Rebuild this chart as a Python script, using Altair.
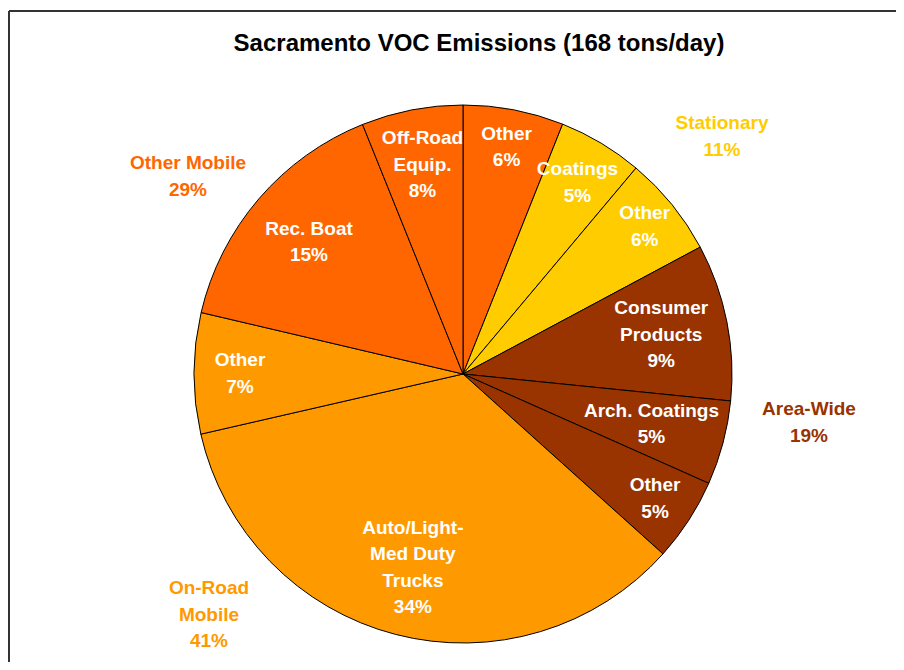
import altair as alt
import pandas as pd

# ---- data ----
slice_names = ["Other", "Coatings", "Other", "Consumer\nProducts", "Arch. Coatings",
               "Other", "Auto/Light-\nMed Duty\nTrucks", "Other", "Rec. Boat", "Off-Road\nEquip."]
slice_groups = ["Other Mobile", "Stationary", "Stationary", "Area-Wide", "Area-Wide",
                "Area-Wide", "On-Road Mobile", "On-Road Mobile", "Other Mobile", "Other Mobile"]
slice_shares = [6.04, 5.08, 6.06, 9.42, 5.06, 5.00, 34.75, 7.26, 15.24, 6.09]  # measured angle share (%)
slice_pct_labels = ["6%", "5%", "6%", "9%", "5%", "5%", "34%", "7%", "15%", "8%"]

group_names = ["Other Mobile", "Stationary", "Area-Wide", "On-Road\nMobile"]
group_pct_labels = ["29%", "11%", "19%", "41%"]

# ---- styling ----
group_colors = {"Other Mobile": "#FF6600", "Stationary": "#FFCC00",
                "Area-Wide": "#993300", "On-Road Mobile": "#FF9900"}
label_radius = [231, 223, 234, 202, 195, 229, 200, 223, 203, 213]
group_label_pos = [(180, 155, "#FF6600"), (714, 115, "#FFCC00"),
                   (801, 401, "#993300"), (201, 580, "#FF9900")]
FONT = "Liberation Sans"
LH = 26.5
CX, CY, R = 455, 366, 269

labels = [f"{n}\n{p}" for n, p in zip(slice_names, slice_pct_labels)]
df = pd.DataFrame({
    "idx": list(range(len(slice_names))),
    "share": slice_shares,
    "group": slice_groups,
    "label": labels,
    "nlines": [t.count("\n") + 1 for t in labels],
    "color": [group_colors[g] for g in slice_groups],
    "lr": label_radius,
})

theta_scale = alt.Scale(domain=[0, 100])

pie = alt.Chart(df).mark_arc(radius=R, stroke="black", strokeWidth=1).encode(
    theta=alt.Theta("share:Q", stack=True, scale=theta_scale),
    order=alt.Order("idx:Q"),
    x=alt.value(CX), y=alt.value(CY),
    color=alt.Color("color:N", scale=None),
)

label_base = alt.Chart(df).transform_window(
    cum="sum(share)", sort=[alt.SortField("idx")]
).transform_calculate(
    mid="datum.cum - datum.share / 2"
)

inner_layers = []
for n in sorted(set(df["nlines"])):
    inner_layers.append(
        label_base.transform_filter(alt.datum.nlines == n).mark_text(
            font=FONT, fontSize=19, fontWeight="bold", color="white",
            lineBreak="\n", lineHeight=LH, align="center", baseline="middle",
            dy=-(n - 1) * LH / 2,
        ).encode(
            theta=alt.Theta("mid:Q", stack=None, scale=theta_scale),
            radius=alt.Radius("lr:Q", scale=None),
            x=alt.value(CX), y=alt.value(CY),
            text="label:N",
        )
    )

one = alt.Data(values=[{"a": 1}])

title = alt.Chart(one).mark_text(font=FONT, fontSize=24, fontWeight="bold", color="black",
                                 align="center", baseline="middle").encode(
    x=alt.value(471), y=alt.value(36),
    text=alt.value("Sacramento VOC Emissions (168 tons/day)"),
)

group_layers = []
for (gx, gy, gc), gn, gp in zip(group_label_pos, group_names, group_pct_labels):
    group_layers.append(
        alt.Chart(one).mark_text(font=FONT, fontSize=19, fontWeight="bold", color=gc,
                                 lineBreak="\n", lineHeight=LH, align="center",
                                 baseline="middle").encode(
            x=alt.value(gx), y=alt.value(gy), text=alt.value(f"{gn}\n{gp}"))
    )

frame_top = alt.Chart(one).mark_rule(color="#333333", strokeWidth=2).encode(
    x=alt.value(1), x2=alt.value(888), y=alt.value(3))
frame_left = alt.Chart(one).mark_rule(color="#333333", strokeWidth=2).encode(
    x=alt.value(1), y=alt.value(3), y2=alt.value(654))

chart = alt.layer(frame_top, frame_left, pie, *inner_layers, title, *group_layers).properties(
    width=888, height=654,
    autosize=alt.AutoSizeParams(type="none"),
    padding=0,
).configure_view(stroke=None)

chart.save("out.html", embed_options={"renderer": "svg", "actions": False})
